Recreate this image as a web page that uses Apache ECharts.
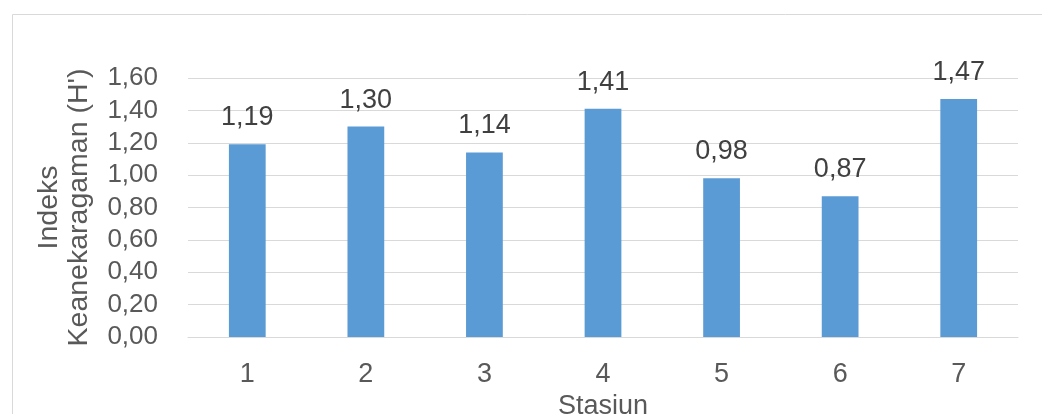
<!DOCTYPE html>
<html>
<head>
<meta charset="utf-8">
<script src="https://cdn.jsdelivr.net/npm/echarts@6/dist/echarts.min.js"></script>
<style>
  html, body { margin: 0; padding: 0; background: #fff; }
  #chart { width: 1042px; height: 414px; }
</style>
</head>
<body>
<div id="chart"></div>
<script>
// Diversity index (H') per station
const stations = ['1', '2', '3', '4', '5', '6', '7'];
const diversityIndex = [1.19, 1.30, 1.14, 1.41, 0.98, 0.87, 1.47];
const yTicks = { min: 0, max: 1.6, interval: 0.2 };

const fmt = v => Number(v).toFixed(2).replace('.', ',');
const FONT = '"Liberation Sans", Arial, sans-serif';

const chart = echarts.init(document.getElementById('chart'), null, { renderer: 'canvas' });
chart.setOption({
  animation: false,
  backgroundColor: '#ffffff',
  textStyle: { fontFamily: FONT },
  graphic: [{
    type: 'rect',
    shape: { x: 12.5, y: 14.5, width: 1100, height: 500 },
    style: { fill: 'none', stroke: '#d9d9d9', lineWidth: 1 },
    silent: true
  }],
  grid: { left: 188, right: 24, top: 78, bottom: 77, containLabel: false, outerBoundsMode: 'none' },
  xAxis: {
    type: 'category',
    data: stations,
    name: 'Stasiun',
    nameLocation: 'middle',
    nameGap: 55,
    nameTextStyle: { fontSize: 27, color: '#595959', fontFamily: FONT },
    axisLine: { show: true, lineStyle: { color: '#d9d9d9', width: 1 } },
    axisTick: { show: false },
    axisLabel: { fontSize: 27, color: '#595959', margin: 24, fontFamily: FONT }
  },
  yAxis: {
    type: 'value',
    min: yTicks.min,
    max: yTicks.max,
    interval: yTicks.interval,
    name: "Indeks\nKeanekaragaman (H')",
    nameLocation: 'middle',
    nameGap: 94,
    nameRotate: 90,
    nameTextStyle: { fontSize: 28.5, color: '#595959', fontFamily: FONT, lineHeight: 30, align: 'center' },
    axisLine: { show: false },
    axisTick: { show: false },
    splitLine: { lineStyle: { color: '#d9d9d9', width: 1 } },
    axisLabel: { fontSize: 26, color: '#595959', margin: 30, fontFamily: FONT, formatter: fmt }
  },
  series: [{
    type: 'bar',
    data: diversityIndex,
    barWidth: '31%',
    itemStyle: { color: '#5b9bd5' },
    label: {
      show: true,
      position: 'top',
      distance: 13,
      fontSize: 27,
      color: '#404040',
      fontFamily: FONT,
      formatter: p => fmt(p.value)
    }
  }]
});
</script>
</body>
</html>
